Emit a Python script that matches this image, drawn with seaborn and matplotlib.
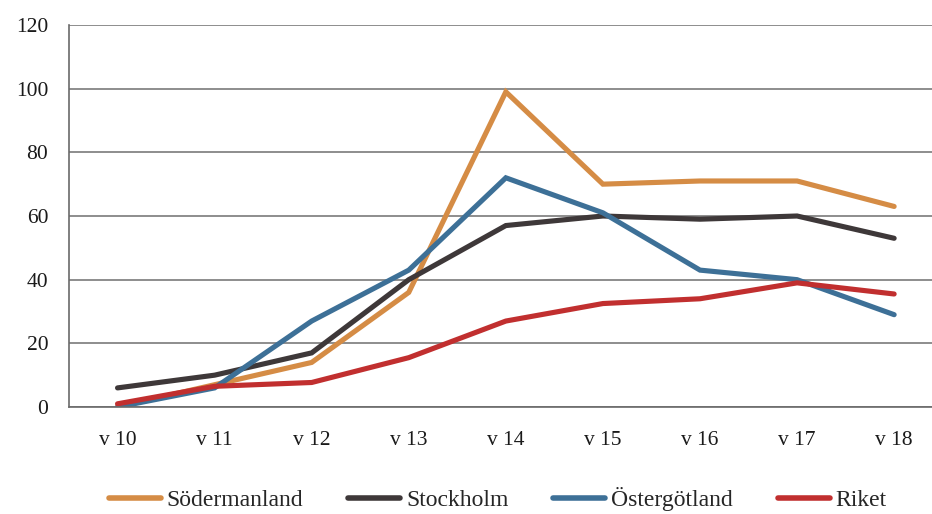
import pandas as pd
import matplotlib.pyplot as plt
import seaborn as sns

# --- Data ---
weeks = ['v 10', 'v 11', 'v 12', 'v 13', 'v 14', 'v 15', 'v 16', 'v 17', 'v 18']
sodermanland = [0, 7, 14, 36, 99, 70, 71, 71, 63]
stockholm = [6, 10, 17, 40, 57, 60, 59, 60, 53]
ostergotland = [0, 6, 27, 43, 72, 61, 43, 40, 29]
riket = [1, 6.5, 7.7, 15.5, 27, 32.5, 34, 39, 35.5]

series_names = ['Södermanland', 'Stockholm', 'Östergötland', 'Riket']
colors = ['#D58C45', '#3E3839', '#3D7097', '#C12F2F']

# --- Styling ---
sns.set_theme(style="white")
plt.rcParams['font.family'] = ['Liberation Serif', 'DejaVu Serif']

df = pd.DataFrame({
    'week': weeks * 4,
    'pos': list(range(len(weeks))) * 4,
    'value': sodermanland + stockholm + ostergotland + riket,
    'region': sum([[n] * len(weeks) for n in series_names], []),
})

fig = plt.figure(figsize=(9.32, 5.14), dpi=100)
ax = fig.add_axes([69 / 932, 107 / 514, 1 - 69 / 932, 382 / 514])

sns.lineplot(data=df, x='pos', y='value', hue='region', hue_order=series_names,
             palette=colors, linewidth=3.7, ax=ax, legend=False,
             solid_capstyle='round', solid_joinstyle='miter')

ax.set_ylim(0, 120)
ax.set_yticks(range(0, 121, 20))
ax.set_xlim(-0.5, 8.39)
ax.set_xticks(range(len(weeks)))
ax.set_xticklabels(weeks)
ax.set_xlabel('')
ax.set_ylabel('')
ax.yaxis.grid(True, color='#7a7a7a', linewidth=1.2)
ax.set_axisbelow(True)
ax.tick_params(axis='y', length=0, pad=15, labelsize=15.5, labelcolor='#1a1a1a')
ax.tick_params(axis='x', length=0, pad=17, labelsize=15.5, labelcolor='#1a1a1a')

for side in ['top', 'right']:
    ax.spines[side].set_visible(False)
for side in ['left', 'bottom']:
    ax.spines[side].set_color('#6a6a6a')
    ax.spines[side].set_linewidth(1.2)

handles = [plt.Line2D([], [], color=c, linewidth=4, solid_capstyle='round') for c in colors]
fig.legend(handles, series_names, loc='center', bbox_to_anchor=(0.534, 15 / 514), ncol=4,
           frameon=False, fontsize=17, handlelength=2.2, handletextpad=0.25,
           columnspacing=1.9, borderpad=0.2)

plt.savefig('out.png', dpi=100)
